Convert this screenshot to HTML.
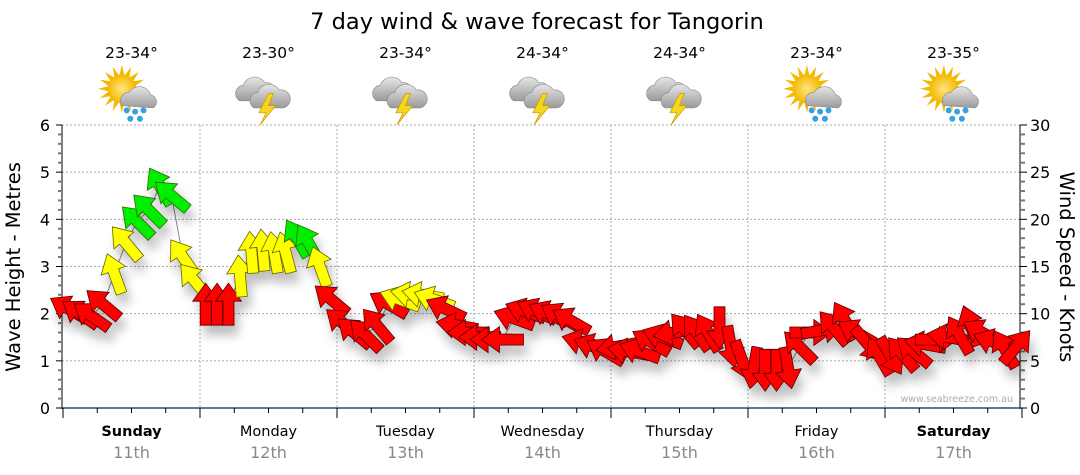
<!DOCTYPE html>
<html><head><meta charset="utf-8">
<style>
html,body{margin:0;padding:0;background:#fff;}
svg{display:block;font-family:"DejaVu Sans","Liberation Sans",sans-serif;}
</style></head>
<body>
<svg id="chart" width="1080" height="475" viewBox="0 0 1080 475">
<defs>
<filter id="shadow" x="-50%" y="-50%" width="200%" height="200%">
<feGaussianBlur in="SourceAlpha" stdDeviation="5"/>
<feOffset dx="4" dy="10" result="b"/>
<feComponentTransfer><feFuncA type="linear" slope="0.25"/></feComponentTransfer>
<feMerge><feMergeNode/><feMergeNode in="SourceGraphic"/></feMerge>
</filter>
<radialGradient id="sunG" cx="0.5" cy="0.5" r="0.5"><stop offset="0" stop-color="#ffe680"/><stop offset="1" stop-color="#f5b800"/></radialGradient>
<linearGradient id="cloudG" x1="0" y1="0" x2="0" y2="1"><stop offset="0" stop-color="#e6e6e6"/><stop offset="1" stop-color="#9a9a9a"/></linearGradient>
</defs>
<text x="537" y="29" text-anchor="middle" font-size="22.5" fill="#000">7 day wind &amp; wave forecast for Tangorin</text>
<g id="grid"></g>
<g id="axes"></g>
<g id="topIcons"></g>
<path id="waveLine" fill="none" stroke="#888" stroke-width="1"/>
<g id="arrows" filter="url(#shadow)"></g>
<text x="1013" y="402" text-anchor="end" font-size="9.5" fill="#aab">www.seabreeze.com.au</text>
<text transform="translate(20,267) rotate(-90)" text-anchor="middle" font-size="19.5" fill="#000">Wave Height - Metres</text>
<text transform="translate(1060,267) rotate(90)" text-anchor="middle" font-size="19.5" fill="#000">Wind Speed - Knots</text>
</svg>
<script>
const days=["Sunday","Monday","Tuesday","Wednesday","Thursday","Friday","Saturday"];
const dates=["11th","12th","13th","14th","15th","16th","17th"];
const temps=["23-34°","23-30°","23-34°","24-34°","24-34°","23-34°","23-35°"];
const icons=["sunrain","storm","storm","storm","storm","sunrain","sunrain"];
const waveTicks=[0,1,2,3,4,5,6];
const windTicks=[0,5,10,15,20,25,30];
const waveHeight=[2.1,2.0,1.95,2.2,2.85,3.5,3.95,4.2,4.7,4.5,3.2,2.7,
 2.2,2.2,2.2,2.8,3.3,3.35,3.3,3.3,3.6,3.5,3.0,2.3,
 1.8,1.6,1.55,1.75,2.2,2.3,2.4,2.4,2.3,2.1,1.75,1.6,
 1.5,1.45,1.45,1.9,2.05,2.05,2.0,1.95,1.85,1.4,1.3,1.2,
 1.3,1.2,1.2,1.4,1.5,1.6,1.65,1.6,1.6,1.7,1.3,1.0,
 0.85,0.8,0.8,0.85,1.3,1.6,1.65,1.7,1.85,1.6,1.35,1.1,
 1.1,1.15,1.2,1.35,1.45,1.5,1.55,1.75,1.6,1.4,1.25,1.3];
const windSpeed=[9,9,9,10,14,15,18,19,19,18,14,14,
 10,10,10,13,14,14,14,14,17,17,14,10,
 9,9,9,10,11,13,13,13,13,11,10,9,
 9,9,9,9,9,9,9,9,9,9,9,9,
 9,9,9,9,9,9,9,9,9,9,9,9,
 9,9,9,9,9,9,9,9,9,9,9,9,
 9,9,9,9,9,9,9,9,9,9,9,9];
const windDir=[-60,-55,-55,-50,-20,-40,-45,-45,-30,-50,-35,-40,
 0,0,0,-5,-5,-5,-10,-15,-30,-30,-20,-50,
 -50,-50,-45,-40,-60,-70,-80,-80,-70,-65,-80,-90,
 -90,-90,-90,-70,-70,-65,-65,-60,-60,-75,-70,-60,
 -100,-80,-70,-60,-70,-100,-40,-35,-30,180,170,160,
 190,180,180,170,-45,90,80,-40,-30,-60,140,-30,
 150,-40,-50,-80,90,-80,-30,-20,-60,-70,-30,40];
const x0=63,dayW=137,per=12;
const yWave=v=>408-v*47.17;
const yWind=k=>408-k*47.17/5;
const xIdx=i=>x0+(i+0.5)*dayW/per;
const ns="http://www.w3.org/2000/svg";
function mk(tag,attrs,parent){const e=document.createElementNS(ns,tag);for(const k in attrs)e.setAttribute(k,attrs[k]);parent.appendChild(e);return e;}
const grid=document.getElementById('grid'),axes=document.getElementById('axes'),topG=document.getElementById('topIcons');
waveTicks.forEach(v=>{if(v===0)return;
 const l=mk('line',{x1:62,x2:1020,y1:yWave(v),y2:yWave(v),stroke:'#aaa','stroke-dasharray':'2,2'},grid);
 
 });
for(let d=1;d<7;d++){
 const l=mk('line',{x1:x0+d*dayW,x2:x0+d*dayW,y1:125,y2:408,stroke:'#aaa','stroke-dasharray':'2,2'},grid);
 
 }
mk('line',{x1:62,x2:62,y1:125,y2:409,stroke:'#000'},axes);
for(let v=0;v<=6.001;v+=0.2){const y=yWave(v);const major=Math.abs(v-Math.round(v))<0.01;
 mk('line',{x1:major?56:58,x2:62,y1:y,y2:y,stroke:major?'#000':'#777','stroke-width':major?1:2},axes);}
waveTicks.forEach(v=>{const t=mk('text',{x:50,y:yWave(v)+6,'text-anchor':'end','font-size':16},axes);t.textContent=v;
 
 });
mk('line',{x1:1020,x2:1020,y1:125,y2:409,stroke:'#000'},axes);
for(let k=0;k<=30;k++){const y=yWind(k);const major=k%5===0;
 mk('line',{x1:1020,x2:major?1027:1025,y1:y,y2:y,stroke:major?'#000':'#777','stroke-width':major?1:2},axes);}
windTicks.forEach(k=>{const t=mk('text',{x:1030,y:yWind(k)+6,'font-size':16},axes);t.textContent=k;
 
 });
mk('line',{x1:62,x2:1020,y1:408,y2:408,stroke:'#1a4f7a','stroke-width':1.5},axes);
for(let q=0;q<=28;q++){const x=x0+q*dayW/4;const major=q%4===0;
 mk('line',{x1:x,x2:x,y1:408,y2:major?418:413,stroke:'#000'},axes);}
days.forEach((d,i)=>{const cx=x0+(i+0.5)*dayW;
 const t=mk('text',{x:cx,y:436,'text-anchor':'middle','font-size':14.5,'font-weight':(i===0||i===6)?'bold':'normal'},axes);t.textContent=d;
 
 
 const t2=mk('text',{x:cx,y:458,'text-anchor':'middle','font-size':16,fill:'#888'},axes);t2.textContent=dates[i];
 
 
 const t3=mk('text',{x:cx,y:58,'text-anchor':'middle','font-size':15.5},topG);t3.textContent=temps[i];
 
 
 const g=mk('g',{transform:`translate(${cx},96) scale(1.2)`},topG);
 
 
 if(icons[i]==='sunrain'){
  for(let a=0;a<16;a++){const r=a*Math.PI/8;mk('polygon',{points:`${-8+20*Math.cos(r)},${-6+20*Math.sin(r)} ${-8+11*Math.cos(r+0.2)},${-6+11*Math.sin(r+0.2)} ${-8+11*Math.cos(r-0.2)},${-6+11*Math.sin(r-0.2)}`,fill:'#f5b800'},g);}
  mk('circle',{cx:-8,cy:-6,r:12,fill:'url(#sunG)'},g);
  mk('path',{d:'M-8,8 a7,7 0 0 1 6,-11 a10,10 0 0 1 18,2 a6,6 0 0 1 2,11 z',fill:'url(#cloudG)',stroke:'#888','stroke-width':0.5},g);
  [[-4,12],[3,13],[10,12],[-1,19],[7,19]].forEach(p=>mk('circle',{cx:p[0],cy:p[1],r:2.5,fill:'#3aa0e0'},g));
 }else{
  mk('path',{d:'M-24,4 a7,7 0 0 1 3,-13 a10,10 0 0 1 18,-2 a6,6 0 0 1 3,15 z',fill:'url(#cloudG)',stroke:'#888','stroke-width':0.5},g);
  mk('path',{d:'M-12,10 a7,7 0 0 1 3,-13 a10,10 0 0 1 18,-2 a6,6 0 0 1 3,15 z',fill:'url(#cloudG)',stroke:'#888','stroke-width':0.5},g);
  mk('polygon',{points:'0,-2 -8,14 -2,14 -7,24 6,8 0,8 4,-2',fill:'#f7d51d',stroke:'#c90','stroke-width':0.6},g);
 }
});
document.getElementById('waveLine').setAttribute('d',waveHeight.map((v,i)=>(i?'L':'M')+xIdx(i).toFixed(1)+','+yWave(v).toFixed(1)).join(' '));
const ag=document.getElementById('arrows');
const col=k=>k>=17?'#00ee00':(k>=12?'#ffff00':'#ff0000');
const stroke=k=>k>=17?'#336600':(k>=12?'#666600':'#550000');
waveHeight.forEach((v,i)=>{
 const p=mk('polygon',{points:'0,-21 13,-3 5.5,-3 5.5,21 -5.5,21 -5.5,-3 -13,-3',fill:col(windSpeed[i]),stroke:stroke(windSpeed[i]),'stroke-width':0.8,
  transform:`translate(${xIdx(i).toFixed(1)},${yWave(v).toFixed(1)}) rotate(${windDir[i]})`},ag);
 
 
});
</script>
</body></html>
